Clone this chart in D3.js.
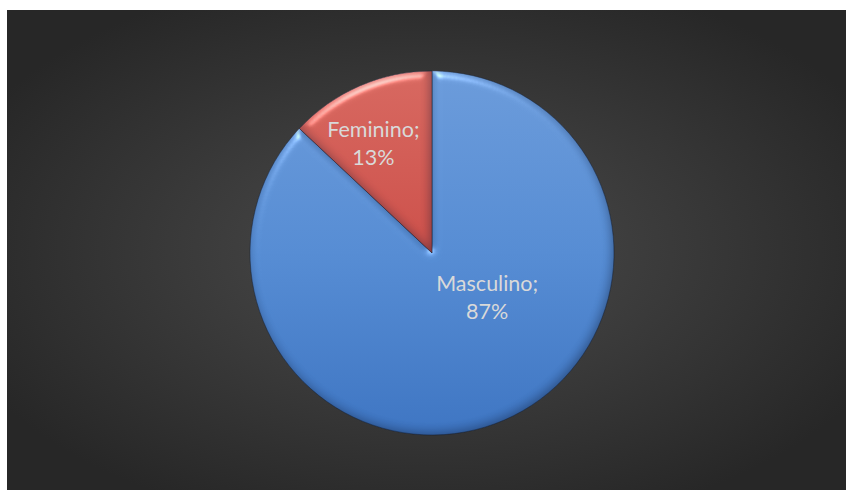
<!DOCTYPE html>
<html>
<head>
<meta charset="utf-8">
<script src="https://cdn.jsdelivr.net/npm/d3@7"></script>
<style>
  html, body { margin: 0; padding: 0; background: #ffffff; }
  svg { display: block; }
</style>
</head>
<body>
<svg id="chart" width="846" height="490"></svg>
<script>
// Gender split of respondents
const categories = ["Masculino", "Feminino"];
const values = [87, 13];
const labelText = ["Masculino;", "Feminino;"];
const percentText = ["87%", "13%"];

const W = 846, H = 490;
const svg = d3.select("#chart");
const defs = svg.append("defs");

const cx = 432, cy = 253, R = 182;

// Dark radial backdrop
const bg = defs.append("radialGradient").attr("id", "bgGrad")
  .attr("cx", "50%").attr("cy", "50%").attr("r", "60%");
bg.append("stop").attr("offset", "0%").attr("stop-color", "#4c4c4c");
bg.append("stop").attr("offset", "100%").attr("stop-color", "#272727");

svg.append("rect")
  .attr("x", 7).attr("y", 10).attr("width", W - 7).attr("height", H - 10)
  .attr("fill", "url(#bgGrad)");

// Slice fills: lighter at the top, deeper toward the bottom (pie-local coordinates)
const palettes = [
  { top: "#6a9ad9", mid: "#558bd2", bot: "#3d74c1" },
  { top: "#d6675f", mid: "#cb4f49", bot: "#bd3f3a" }
];
palettes.forEach((p, i) => {
  const g = defs.append("linearGradient").attr("id", "sg" + i)
    .attr("gradientUnits", "userSpaceOnUse")
    .attr("x1", 0).attr("y1", -R).attr("x2", 0).attr("y2", R);
  g.append("stop").attr("offset", "0%").attr("stop-color", p.top);
  g.append("stop").attr("offset", "50%").attr("stop-color", p.mid);
  g.append("stop").attr("offset", "100%").attr("stop-color", p.bot);
});

// Soft bevel on each slice: highlight on lit edges, shade on the far edges
const f = defs.append("filter").attr("id", "bevel")
  .attr("color-interpolation-filters", "sRGB")
  .attr("x", "-10%").attr("y", "-10%").attr("width", "120%").attr("height", "120%");
f.append("feGaussianBlur").attr("in", "SourceAlpha").attr("stdDeviation", 5).attr("result", "blur");
const spec = f.append("feSpecularLighting").attr("in", "blur")
  .attr("surfaceScale", 5).attr("specularConstant", 0.8).attr("specularExponent", 30)
  .attr("lighting-color", "#ffffff").attr("result", "spec");
spec.append("feDistantLight").attr("azimuth", 250).attr("elevation", 32);
f.append("feComposite").attr("in", "spec").attr("in2", "SourceAlpha").attr("operator", "in").attr("result", "specIn");
// shading: offset blurred alpha gives a dark rim on the lower-right edges
f.append("feOffset").attr("in", "blur").attr("dx", -2).attr("dy", -3).attr("result", "off");
f.append("feComposite").attr("in", "SourceAlpha").attr("in2", "off").attr("operator", "out").attr("result", "rim");
f.append("feColorMatrix").attr("in", "rim").attr("type", "matrix")
  .attr("values", "0 0 0 0 0.05  0 0 0 0 0.1  0 0 0 0 0.2  0 0 0 0.4 0").attr("result", "rimDark");
f.append("feComposite").attr("in", "SourceGraphic").attr("in2", "specIn")
  .attr("operator", "arithmetic").attr("k1", 0).attr("k2", 1).attr("k3", 0.5).attr("k4", 0).attr("result", "lit");
const mrg = f.append("feMerge");
mrg.append("feMergeNode").attr("in", "lit");
mrg.append("feMergeNode").attr("in", "rimDark");

const pie = d3.pie().sort(null).value(d => d)(values);
const arc = d3.arc().innerRadius(0).outerRadius(R);

const g = svg.append("g").attr("transform", `translate(${cx},${cy})`);

g.selectAll("path.slice").data(pie).enter().append("path")
  .attr("class", "slice")
  .attr("d", arc)
  .attr("fill", (d, i) => `url(#sg${i})`)
  .attr("filter", "url(#bevel)")
  .attr("stroke", "rgba(20,30,50,0.45)")
  .attr("stroke-width", 1);

// Label anchors: distance and angular shift relative to each slice's mid-angle
const labelPos = [
  { r: 70, shift: -0.5 },
  { r: 125, shift: -0.08 }
];

const labels = g.selectAll("text.lbl").data(pie).enter().append("text")
  .attr("class", "lbl")
  .attr("text-anchor", "middle")
  .attr("font-family", "Lato, 'Open Sans', sans-serif")
  .attr("font-size", 21.5)
  .attr("fill", "#d9d9d9")
  .attr("transform", (d, i) => {
    const a = (d.startAngle + d.endAngle) / 2 + labelPos[i].shift;
    const x = Math.sin(a) * labelPos[i].r;
    const y = -Math.cos(a) * labelPos[i].r;
    return `translate(${x},${y})`;
  });
labels.append("tspan").attr("x", 0).attr("dy", "-0.25em").text((d, i) => labelText[i]);
labels.append("tspan").attr("x", 0).attr("dy", "1.3em").text((d, i) => percentText[i]);
</script>
</body>
</html>
